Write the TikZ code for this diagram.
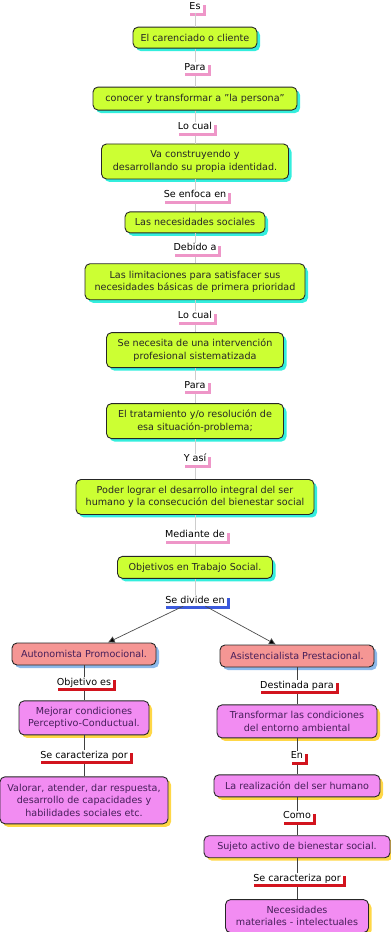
\documentclass[tikz,border=0pt]{standalone}
\usepackage{fontspec}
\setmainfont{DejaVu Sans}
\usetikzlibrary{positioning,shadows,arrows.meta}

\definecolor{limebox}{RGB}{204,255,51}
\definecolor{limeshadow}{RGB}{51,238,221}
\definecolor{salmonbox}{RGB}{245,150,148}
\definecolor{salmonshadow}{RGB}{140,185,235}
\definecolor{violetbox}{RGB}{242,140,242}
\definecolor{violetshadow}{RGB}{255,215,70}
\definecolor{pinkline}{RGB}{238,150,200}
\definecolor{redline}{RGB}{210,20,30}
\definecolor{blueline}{RGB}{60,90,220}
\definecolor{stemgrey}{RGB}{205,205,205}
\definecolor{textviolet}{RGB}{70,30,90}

\begin{document}
\begin{tikzpicture}[x=1pt,y=-1pt,font=\fontsize{9.6}{12.5}\selectfont,
    box/.style={draw=black!85,rounded corners=5pt,line width=0.9pt,align=center,inner sep=2pt},
    limenode/.style={box,fill=limebox,text=black!85,
        general shadow={fill=limeshadow,shadow xshift=3pt,shadow yshift=-3pt}},
    salmonnode/.style={box,fill=salmonbox,text=textviolet,
        general shadow={fill=salmonshadow,shadow xshift=3pt,shadow yshift=-3pt}},
    violetnode/.style={box,fill=violetbox,text=textviolet,
        general shadow={fill=violetshadow,shadow xshift=3pt,shadow yshift=-3pt}},
    linktext/.style={fill=white,text=black,inner xsep=2pt,inner ysep=1pt,text height=7pt,text depth=2pt,
        general shadow={fill=#1,shadow xshift=3pt,shadow yshift=-3pt}}]
    \useasboundingbox (0,0) rectangle (391,932);

    % main column
    \node[linktext=pinkline] (es) at (195,7) {Es};
    \node[limenode,minimum width=124pt,minimum height=21pt] (carenciado) [below=14pt of es] {El carenciado o cliente};
    \node[limenode,minimum width=204pt,minimum height=23pt] (conocer) [below=38pt of carenciado] {conocer y transformar a "la persona"};
    \node[limenode,minimum width=187pt,minimum height=35pt] (identidad) [below=33pt of conocer] {Va construyendo y\\desarrollando su propia identidad.};
    \node[limenode,minimum width=140pt,minimum height=21pt] (sociales) [below=32pt of identidad] {Las necesidades sociales};
    \node[limenode,minimum width=220pt,minimum height=36pt] (limitaciones) [below=30pt of sociales] {Las limitaciones para satisfacer sus\\necesidades básicas de primera prioridad};
    \node[limenode,minimum width=177pt,minimum height=35pt] (intervencion) [below=32pt of limitaciones] {Se necesita de una intervención\\profesional sistematizada};
    \node[limenode,minimum width=177pt,minimum height=35pt] (tratamiento) [below=35pt of intervencion] {El tratamiento y/o resolución de\\esa situación-problema;};
    \node[limenode,minimum width=238pt,minimum height=35pt] (desarrollo) [below=40pt of tratamiento] {Poder lograr el desarrollo integral del ser\\humano y la consecución del bienestar social};
    \node[limenode,minimum width=155pt,minimum height=22pt] (objetivos) [below=41pt of desarrollo] {Objetivos en Trabajo Social.};
    \node[linktext=blueline] (divide) [below=16pt of objetivos] {Se divide en};

    % left branch
    \node[salmonnode,minimum width=144pt,minimum height=22pt] (autonomista) at (84,654) {Autonomista Promocional.};
    \node[violetnode,minimum width=130pt,minimum height=34pt] (mejorar) [below=35pt of autonomista] {Mejorar condiciones\\Perceptivo-Conductual.};
    \node[violetnode,minimum width=168pt,minimum height=47pt,inner xsep=1pt] (valorar) [below=41pt of mejorar] {Valorar, atender, dar respuesta,\\desarrollo de capacidades y\\habilidades sociales etc.};

    % right branch
    \node[salmonnode,minimum width=154pt,minimum height=22pt] (asistencialista) at (297,656) {Asistencialista Prestacional.};
    \node[violetnode,minimum width=160pt,minimum height=33pt] (transformar) [below=37pt of asistencialista] {Transformar las condiciones\\del entorno ambiental};
    \node[violetnode,minimum width=166pt,minimum height=22pt] (realizacion) [below=36pt of transformar] {La realización del ser humano};
    \node[violetnode,minimum width=186pt,minimum height=22pt,inner xsep=1pt] (sujeto) [below=38pt of realizacion] {Sujeto activo de bienestar social.};
    \node[violetnode,minimum width=143pt,minimum height=33pt] (necesidades) [below=41pt of sujeto] {Necesidades\\materiales - intelectuales};

    \path[draw=stemgrey,line width=1pt]
    (es)           edge (carenciado)
    (carenciado)   edge node[linktext=pinkline] {Para} (conocer)
    (conocer)      edge node[linktext=pinkline] {Lo cual} (identidad)
    (identidad)    edge node[linktext=pinkline] {Se enfoca en} (sociales)
    (sociales)     edge node[linktext=pinkline] {Debido a} (limitaciones)
    (limitaciones) edge node[linktext=pinkline] {Lo cual} (intervencion)
    (intervencion) edge node[linktext=pinkline] {Para} (tratamiento)
    (tratamiento)  edge node[linktext=pinkline] {Y así} (desarrollo)
    (desarrollo)   edge node[linktext=pinkline] {Mediante de} (objetivos)
    (objetivos)    edge (divide)
    ;

    \path[draw=black!70,line width=0.7pt,->,>={Latex[length=7pt,width=7pt]}]
    (divide) edge (autonomista)
             edge (asistencialista)
    ;

    \path[draw=black!75,line width=0.8pt]
    (autonomista)     edge node[linktext=redline] {Objetivo es} (mejorar)
    (mejorar)         edge node[linktext=redline] {Se caracteriza por} (valorar)
    (asistencialista) edge node[linktext=redline] {Destinada para} (transformar)
    (transformar)     edge node[linktext=redline] {En} (realizacion)
    (realizacion)     edge node[linktext=redline] {Como} (sujeto)
    (sujeto)          edge node[linktext=redline] {Se caracteriza por} (necesidades)
    ;
\end{tikzpicture}
\end{document}
